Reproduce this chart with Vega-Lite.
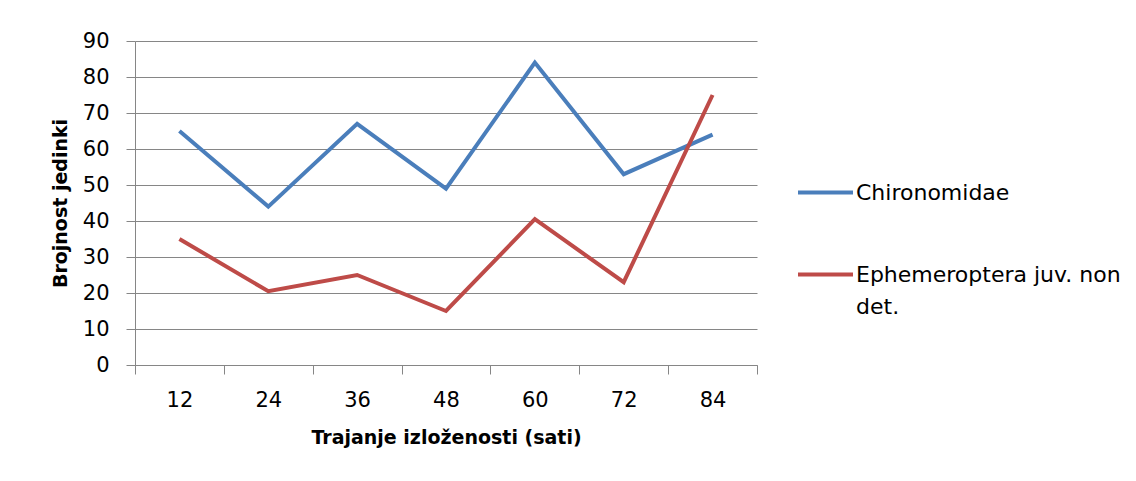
{
  "$schema": "https://vega.github.io/schema/vega-lite/v6.json",
  "width": 622,
  "height": 324,
  "autosize": {"type": "none"},
  "padding": {"left": 135, "top": 41, "right": 379, "bottom": 116},
  "background": "white",
  "data": {
    "values": [
      {"sati": 12, "brojnost": 65, "takson": "Chironomidae"},
      {"sati": 24, "brojnost": 44, "takson": "Chironomidae"},
      {"sati": 36, "brojnost": 67, "takson": "Chironomidae"},
      {"sati": 48, "brojnost": 49, "takson": "Chironomidae"},
      {"sati": 60, "brojnost": 84, "takson": "Chironomidae"},
      {"sati": 72, "brojnost": 53, "takson": "Chironomidae"},
      {"sati": 84, "brojnost": 64, "takson": "Chironomidae"},
      {"sati": 12, "brojnost": 35, "takson": "Ephemeroptera juv. non det."},
      {"sati": 24, "brojnost": 20.5, "takson": "Ephemeroptera juv. non det."},
      {"sati": 36, "brojnost": 25, "takson": "Ephemeroptera juv. non det."},
      {"sati": 48, "brojnost": 15, "takson": "Ephemeroptera juv. non det."},
      {"sati": 60, "brojnost": 40.5, "takson": "Ephemeroptera juv. non det."},
      {"sati": 72, "brojnost": 23, "takson": "Ephemeroptera juv. non det."},
      {"sati": 84, "brojnost": 75, "takson": "Ephemeroptera juv. non det."}
    ]
  },
  "mark": {"type": "line", "strokeWidth": 4},
  "encoding": {
    "x": {
      "field": "sati",
      "type": "quantitative",
      "scale": {"domain": [6, 90], "nice": false, "zero": false},
      "axis": {
        "title": "Trajanje izloženosti (sati)",
        "values": [6, 18, 30, 42, 54, 66, 78, 90],
        "labelOffset": 44.4,
        "labelFlush": false,
        "labelOverlap": false,
        "labelExpr": "datum.value >= 90 ? '' : '' + (datum.value + 6)",
        "grid": false,
        "tickSize": 9,
        "labelPadding": 15,
        "titlePadding": 18,
        "titleFontSize": 19
      }
    },
    "y": {
      "field": "brojnost",
      "type": "quantitative",
      "scale": {"domain": [0, 90], "nice": false},
      "axis": {
        "title": "Brojnost jedinki",
        "values": [0, 10, 20, 30, 40, 50, 60, 70, 80, 90],
        "tickSize": 9,
        "labelPadding": 17,
        "titlePadding": 12,
        "titleFontSize": 19
      }
    },
    "color": {
      "field": "takson",
      "type": "nominal",
      "scale": {
        "domain": ["Chironomidae", "Ephemeroptera juv. non det."],
        "range": ["#4a7ebb", "#be4b48"]
      },
      "legend": {
        "title": null,
        "orient": "none",
        "legendX": 661,
        "legendY": 122,
        "symbolType": "stroke",
        "symbolSize": 3025,
        "symbolStrokeWidth": 4,
        "labelOffset": 1,
        "labelLimit": 400,
        "labelFontSize": 22,
        "labelFont": "DejaVu Sans",
        "labelColor": "#000000",
        "rowPadding": 41,
        "labelExpr": "datum.label == 'Ephemeroptera juv. non det.' ? ['Ephemeroptera juv. non', 'det.'] : datum.label"
      }
    }
  },
  "config": {
    "view": {"stroke": null},
    "font": "DejaVu Sans",
    "axis": {
      "labelFont": "DejaVu Sans",
      "labelFontSize": 21,
      "labelColor": "#000000",
      "titleFont": "DejaVu Sans",
      "titleFontWeight": "bold",
      "titleColor": "#000000",
      "domainColor": "#868686",
      "tickColor": "#868686",
      "gridColor": "#868686",
      "gridOpacity": 1,
      "gridWidth": 1
    },
    "style": {"guide-label": {"lineHeight": 32}}
  }
}
